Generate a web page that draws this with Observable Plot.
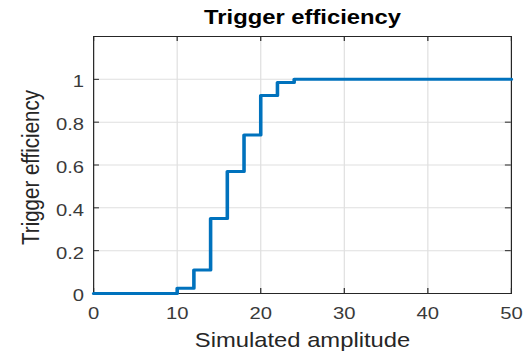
<!DOCTYPE html>
<html>
<head>
<meta charset="utf-8">
<script src="https://cdn.jsdelivr.net/npm/d3@7"></script>
<script src="https://cdn.jsdelivr.net/npm/@observablehq/plot@0.6"></script>
<style>
  html, body { margin: 0; padding: 0; background: #fff; }
  #chart svg { display: block; }
</style>
</head>
<body>
<div id="chart"></div>
<script>
// Simulated amplitude (stair edges) and the measured trigger efficiency
const amplitude = [0, 2, 4, 6, 8, 10, 12, 14, 16, 18, 20, 22, 24, 26, 28, 30, 32, 34, 36, 38, 40, 42, 44, 46, 48, 50];
const efficiency = [0, 0, 0, 0, 0, 0.025, 0.11, 0.35, 0.57, 0.74, 0.925, 0.985, 1, 1, 1, 1, 1, 1, 1, 1, 1, 1, 1, 1, 1, 1];

const xTicks = [0, 10, 20, 30, 40, 50];
const yTicks = [0, 0.2, 0.4, 0.6, 0.8, 1];

const titleText = "Trigger efficiency";
const xLabel = "Simulated amplitude";
const yLabel = "Trigger efficiency";

const rows = amplitude.map((a, i) => ({amplitude: a, efficiency: efficiency[i]}));

// The figure is laid out on a narrower canvas and widened to the window
const W = 443, H = 352;
const mL = 78.2, mR = 13.6, mT = 36, mB = 59;
const innerW = W - mL - mR, innerH = H - mT - mB;
const tickLen = 5;
const ink = "#262626";

const chart = Plot.plot({
  width: W,
  height: H,
  marginLeft: mL,
  marginRight: mR,
  marginTop: mT,
  marginBottom: mB,
  style: {fontFamily: "'Liberation Sans', Arial, Helvetica, sans-serif", background: "#fff", color: ink},
  x: {domain: [0, 50]},
  y: {domain: [0, 1.2]},
  marks: [
    Plot.gridX(xTicks, {stroke: "#dfdfdf", strokeOpacity: 1}),
    Plot.gridY(yTicks, {stroke: "#dfdfdf", strokeOpacity: 1}),
    Plot.axisX(xTicks, {tickSize: 0, tickPadding: 13.5, fontSize: 17, fill: "#3a3a3a", label: null}),
    Plot.axisY(yTicks, {tickSize: 0, tickPadding: 8, fontSize: 17, fill: "#3a3a3a", dy: 2.5, label: null, tickFormat: d => String(d)}),
    // inward tick marks on all four sides
    Plot.tickX(xTicks, {x: d => d, insetTop: innerH - tickLen, stroke: ink}),
    Plot.tickX(xTicks, {x: d => d, insetBottom: innerH - tickLen, stroke: ink}),
    Plot.tickY(yTicks, {y: d => d, insetRight: innerW - tickLen, stroke: ink}),
    Plot.tickY(yTicks, {y: d => d, insetLeft: innerW - tickLen, stroke: ink}),
    Plot.frame({stroke: ink, strokeWidth: 1}),
    Plot.line(rows, {x: "amplitude", y: "efficiency", curve: "step-after", stroke: "#0072BD", strokeWidth: 3}),
    Plot.text([titleText], {text: d => d, frameAnchor: "top", textAnchor: "middle", lineAnchor: "middle", dy: -18.5, fontSize: 20, fontWeight: "bold", fill: "#000"}),
    Plot.text([xLabel], {text: d => d, frameAnchor: "bottom", textAnchor: "middle", lineAnchor: "middle", dy: 47, fontSize: 20, fill: ink}),
    Plot.text([yLabel], {text: d => d, frameAnchor: "left", textAnchor: "middle", lineAnchor: "middle", rotate: -90, dx: -52.6, dy: 2.5, fontSize: 20.5, fill: ink})
  ]
});

chart.setAttribute("width", 527);
chart.setAttribute("height", 352);
chart.setAttribute("preserveAspectRatio", "none");
chart.style.width = "527px";
chart.style.height = "352px";
chart.style.maxWidth = "none";
document.getElementById("chart").appendChild(chart);
</script>
</body>
</html>
